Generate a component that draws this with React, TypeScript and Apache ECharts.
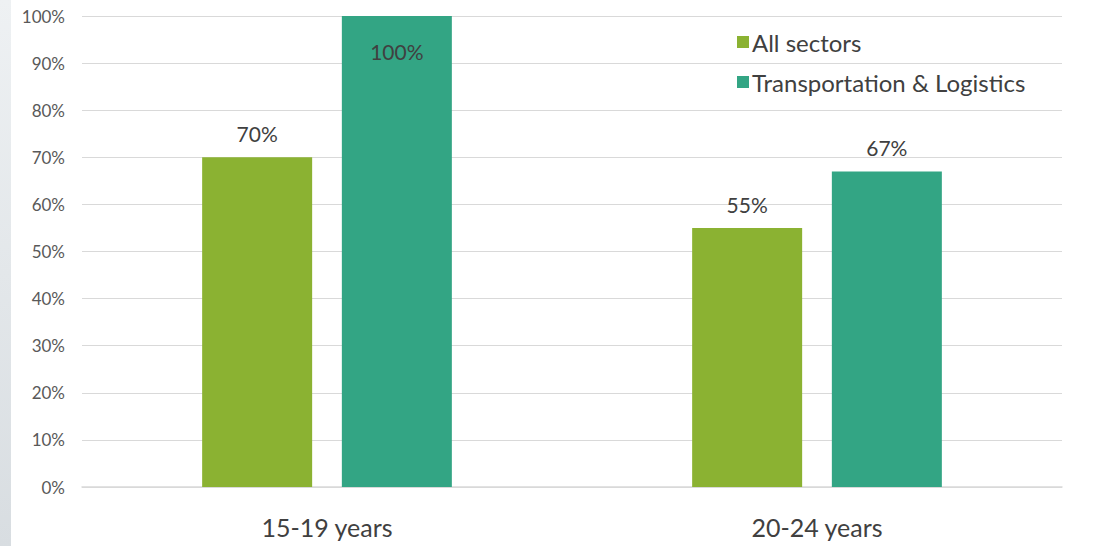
import React, { useEffect, useRef } from "react";
import * as echarts from "echarts";

const categories = ["15-19 years", "20-24 years"];
const allSectors = [0.7, 0.55];
const transport = [1.0, 0.67];
const seriesNames = ["All sectors", "Transportation & Logistics"];

const FONT = "Lato, 'Open Sans', sans-serif";

const fmt = (v: number) => Math.round(v * 100) + "%";

export default function App() {
  const ref = useRef<HTMLDivElement>(null);
  useEffect(() => {
    const chart = echarts.init(ref.current!, null, { renderer: "svg" });
    const labelStyle = {
      show: true,
      position: "top" as const,
      distance: 13,
      fontSize: 21,
      color: "#404040",
      fontFamily: FONT,
      formatter: (p: any) => fmt(p.value),
    };
    chart.setOption({
      animation: false,
      backgroundColor: "#ffffff",
      textStyle: { fontFamily: FONT },
      graphic: [
        {
          type: "rect",
          left: 0,
          top: 0,
          shape: { width: 11, height: 546 },
          style: {
            fill: new echarts.graphic.LinearGradient(0, 0, 0, 1, [
              { offset: 0, color: "#eef1f3" },
              { offset: 1, color: "#d8dde1" },
            ]),
          },
          silent: true,
        },
      ],
      legend: {
        orient: "vertical",
        left: 732,
        top: 25,
        itemGap: 16,
        itemWidth: 12,
        itemHeight: 12,
        icon: "rect",
        textStyle: { fontSize: 24, color: "#404040", fontFamily: FONT, padding: [0, 0, 0, -2] },
        data: seriesNames,
      },
      grid: { left: 82, right: 32, top: 16, bottom: 59, containLabel: false },
      xAxis: {
        type: "category",
        data: categories,
        axisLine: { lineStyle: { color: "#d9d9d9", width: 1.5 } },
        axisTick: { show: false },
        axisLabel: { fontSize: 25, color: "#404040", margin: 27, fontFamily: FONT },
      },
      yAxis: {
        type: "value",
        min: 0,
        max: 1,
        interval: 0.1,
        axisLine: { show: false },
        axisTick: { show: false },
        splitLine: { lineStyle: { color: "#d9d9d9", width: 1 } },
        axisLabel: { fontSize: 17, color: "#595959", margin: 17, fontFamily: FONT, formatter: fmt },
      },
      series: [
        {
          name: seriesNames[0],
          type: "bar",
          data: allSectors,
          itemStyle: { color: "#8bb232" },
          barWidth: 110,
          barGap: "27%",
          label: labelStyle,
        },
        {
          name: seriesNames[1],
          type: "bar",
          data: transport.map((v) =>
            v >= 1
              ? { value: v, label: { position: "insideTop", distance: 25 } }
              : v
          ),
          itemStyle: { color: "#33a584" },
          barWidth: 110,
          label: labelStyle,
        },
      ],
    });
    return () => chart.dispose();
  }, []);
  return (
    <div
      ref={ref}
      style={{ position: "fixed", left: 0, top: 0, width: 1094, height: 546 }}
    />
  );
}
